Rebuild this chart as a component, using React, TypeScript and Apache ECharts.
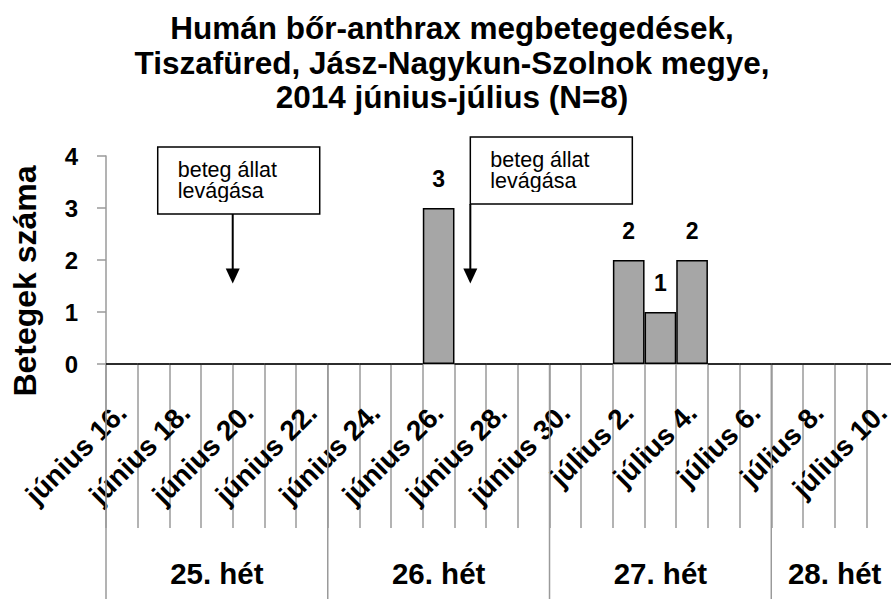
import React, { useEffect, useRef } from "react";
import * as echarts from "echarts";

const titleLines = [
  "Humán bőr-anthrax megbetegedések,",
  "Tiszafüred, Jász-Nagykun-Szolnok megye,",
  "2014 június-július (N=8)",
];
const days = [
  "június 16.", "június 17.", "június 18.", "június 19.", "június 20.",
  "június 21.", "június 22.", "június 23.", "június 24.", "június 25.",
  "június 26.", "június 27.", "június 28.", "június 29.", "június 30.",
  "július 1.", "július 2.", "július 3.", "július 4.", "július 5.",
  "július 6.", "július 7.", "július 8.", "július 9.", "július 10.",
];
const cases = [0, 0, 0, 0, 0, 0, 0, 0, 0, 0, 3, 0, 0, 0, 0, 0, 2, 1, 2, 0, 0, 0, 0, 0, 0];
const yTicks = [0, 1, 2, 3, 4];
const yAxisName = "Betegek száma";
const weekLabels = ["25. hét", "26. hét", "27. hét", "28. hét"];
const weekStart = [0, 7, 14, 21];
const weekEnd = [6, 13, 20, 24];
const annotationText = ["beteg állat\nlevágása", "beteg állat\nlevágása"];
const annotationDay = [3, 11];
const annotationShift = [0.5, 0];
const annotationTip = [1.55, 1.55];
const annotationTop = [2.885, 3.077];

const FONT = "'Liberation Sans', Arial, sans-serif";
const GREY = "#9a9a9a";

export default function App() {
  const ref = useRef<HTMLDivElement>(null);
  useEffect(() => {
    if (!ref.current) return;
    const chart = echarts.init(ref.current, null, { renderer: "svg" });
    const weekData = weekLabels.map((w, i) => [weekStart[i], weekEnd[i], 0, w]);
    const annData = annotationText.map((t, i) => [
      annotationDay[i], annotationTip[i], annotationTop[i], annotationShift[i], t,
    ]);
    const boxDx = [-75, 0];
    chart.setOption({
      animation: false,
      title: {
        text: titleLines.join("\n"),
        left: 452,
        top: 11,
        padding: 0,
        textAlign: "center",
        textStyle: {
          fontFamily: FONT,
          fontWeight: "bold",
          fontSize: 31.5,
          lineHeight: 34.5,
          color: "#000",
        },
      },
      grid: { left: 106, right: -7, top: 156, bottom: 235, outerBoundsMode: "none" },
      xAxis: {
        type: "category",
        data: days,
        boundaryGap: true,
        axisLine: { show: true, lineStyle: { color: GREY, width: 1.5 } },
        axisTick: { show: true, interval: 0, length: 164, lineStyle: { color: GREY, width: 1.5 } },
        axisLabel: {
          interval: 1,
          rotate: 45,
          margin: 44,
          color: "#000",
          fontFamily: FONT,
          fontWeight: "bold",
          fontSize: 28,
        },
        splitLine: { show: false },
      },
      yAxis: {
        type: "value",
        min: yTicks[0],
        max: yTicks[yTicks.length - 1],
        interval: 1,
        axisLine: { show: true, lineStyle: { color: GREY, width: 1.5 } },
        axisTick: { show: true, inside: false, length: 9, lineStyle: { color: GREY, width: 1.5 } },
        axisLabel: {
          margin: 28,
          color: "#000",
          fontFamily: FONT,
          fontWeight: "bold",
          fontSize: 24,
        },
        splitLine: { show: false },
      },
      graphic: [
        {
          type: "text",
          x: 25,
          y: 281,
          rotation: Math.PI / 2,
          style: {
            text: yAxisName,
            align: "center",
            verticalAlign: "middle",
            fontFamily: FONT,
            fontWeight: "bold",
            fontSize: 32,
            fill: "#000",
          },
        },
      ],
      series: [
        {
          type: "bar",
          data: cases,
          barCategoryGap: "0%",
          itemStyle: { color: "#a6a6a6", borderColor: "#000", borderWidth: 1.5 },
          label: {
            show: true,
            position: "top",
            distance: 18,
            color: "#000",
            fontFamily: FONT,
            fontWeight: "bold",
            fontSize: 23,
            formatter: (p: any) => (p.value > 0 ? String(p.value) : ""),
          },
          silent: true,
        },
        {
          type: "custom",
          silent: true,
          clip: false,
          data: weekData,
          encode: { x: [0, 1], y: 2 },
          renderItem: (params: any, api: any) => {
            const band = api.size([1, 0])[0];
            const s = api.coord([api.value(0), 0]);
            const e = api.coord([api.value(1), 0]);
            const left = s[0] - band / 2;
            const right = e[0] + band / 2;
            const axisY = s[1];
            const bottom = api.getHeight();
            return {
              type: "group",
              children: [
                {
                  type: "line",
                  shape: { x1: left, y1: axisY, x2: left, y2: bottom },
                  style: { stroke: GREY, lineWidth: 1.5 },
                },
                {
                  type: "text",
                  x: (left + right) / 2,
                  y: axisY + 209,
                  style: {
                    text: weekLabels[params.dataIndex],
                    align: "center",
                    verticalAlign: "middle",
                    fontFamily: FONT,
                    fontWeight: "bold",
                    fontSize: 29.5,
                    fill: "#000",
                  },
                },
              ],
            };
          },
        },
        {
          type: "custom",
          silent: true,
          clip: false,
          data: annData,
          encode: { x: 0, y: 1 },
          renderItem: (params: any, api: any) => {
            const i = params.dataIndex;
            const band = api.size([1, 0])[0];
            const tip = api.coord([api.value(0), api.value(1)]);
            const top = api.coord([api.value(0), api.value(2)]);
            const ax = tip[0] + api.value(3) * band;
            const boxW = 162;
            const boxH = 67;
            const bx = ax + boxDx[i];
            const by = top[1] - boxH;
            const headH = 15;
            const headW = 14;
            return {
              type: "group",
              children: [
                {
                  type: "rect",
                  shape: { x: bx, y: by, width: boxW, height: boxH },
                  style: { fill: "#fff", stroke: "#000", lineWidth: 1.5 },
                },
                {
                  type: "text",
                  x: bx + 20,
                  y: by + 13,
                  style: {
                    text: annotationText[i],
                    align: "left",
                    verticalAlign: "top",
                    lineHeight: 21,
                    fontFamily: FONT,
                    fontSize: 21.5,
                    fill: "#000",
                  },
                },
                {
                  type: "rect",
                  shape: { x: bx + 1.5, y: by + 55, width: boxW - 3, height: boxH - 56.5 },
                  style: { fill: "#fff" },
                },
                {
                  type: "line",
                  shape: { x1: ax, y1: top[1], x2: ax, y2: tip[1] - headH + 1 },
                  style: { stroke: "#000", lineWidth: 2 },
                },
                {
                  type: "polygon",
                  shape: {
                    points: [
                      [ax - headW / 2, tip[1] - headH],
                      [ax + headW / 2, tip[1] - headH],
                      [ax, tip[1]],
                    ],
                  },
                  style: { fill: "#000" },
                },
              ],
            };
          },
        },
      ],
    });
    return () => chart.dispose();
  }, []);
  return (
    <div
      ref={ref}
      style={{ position: "fixed", left: 0, top: 0, width: 891, height: 599, background: "#fff" }}
    />
  );
}
